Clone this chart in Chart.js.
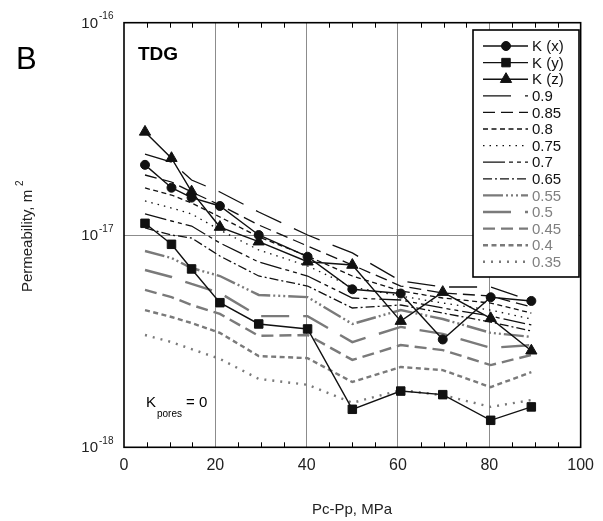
<!DOCTYPE html>
<html>
<head>
<meta charset="utf-8">
<script src="https://cdn.jsdelivr.net/npm/chart.js@4.4.1/dist/chart.umd.min.js"></script>
<style>
  html, body { margin: 0; padding: 0; background: #fff; }
</style>
</head>
<body>
<canvas id="main-chart" width="603" height="521"></canvas>
<script>
// Pc-Pp, MPa at each step
const PRESSURE = [4.6, 10.4, 14.8, 21.0, 29.5, 40.2, 50.0, 60.6, 69.8, 80.3, 89.2];

// measured permeability, in units of 1e-18 m^2
const K_X = [21.4, 16.7, 15.0, 13.7, 10.0, 7.90, 5.55, 5.30, 3.22, 5.09, 4.89];
const K_Y = [11.35, 9.04, 6.92, 4.80, 3.81, 3.61, 1.51, 1.84, 1.77, 1.34, 1.55];
const K_Z = [30.6, 23.0, 16.0, 10.9, 9.30, 7.48, 7.22, 3.93, 5.38, 4.05, 2.85];

// model curves for K_pores fractions, units of 1e-18 m^2
const P90 = [24.07, 22.07, 18.16, 15.94, 12.83, 10.0, 8.23, 6.07, 5.69, 5.69, 4.89];
const P85 = [19.17, 17.77, 15.94, 13.84, 11.15, 8.87, 7.22, 5.75, 5.33, 5.16, 4.58];
const P80 = [16.65, 15.43, 14.15, 12.16, 9.79, 7.96, 6.41, 5.45, 5.05, 4.78, 4.29];
const P75 = [14.46, 13.40, 12.56, 10.56, 8.50, 7.15, 5.69, 5.16, 4.78, 4.43, 4.02];
const P70 = [12.56, 11.64, 11.02, 9.17, 7.46, 6.41, 5.05, 4.94, 4.53, 4.15, 3.77];
const P65 = [10.79, 10.0, 9.68, 7.96, 6.41, 5.75, 4.53, 4.68, 4.29, 3.89, 3.53];
const P55 = [8.41, 7.79, 6.99, 6.41, 5.22, 5.10, 3.81, 4.43, 4.02, 3.46, 3.31];
const P50 = [6.84, 6.34, 5.88, 5.33, 4.15, 4.15, 3.13, 3.69, 3.42, 2.94, 3.03];
const P45 = [5.51, 5.10, 4.68, 4.25, 3.35, 3.38, 2.58, 3.03, 2.87, 2.44, 2.72];
const P40 = [4.43, 4.11, 3.85, 3.46, 2.69, 2.63, 2.03, 2.39, 2.31, 1.92, 2.26];
const P35 = [3.38, 3.13, 2.90, 2.61, 2.10, 1.97, 1.62, 1.86, 1.76, 1.55, 1.67];

const X_TICKS = [0, 20, 40, 60, 80, 100];
const Y_DECADES = [1, 10, 100];          // 1e-18, 1e-17, 1e-16 m^2
const Y_EXPONENTS = ['-18', '-17', '-16'];

const FONT = '"Liberation Sans", Arial, sans-serif';
const BLACK = '#111111';
const GRAY = '#7a7a7a';

const points = (vals) => PRESSURE.map((p, i) => ({ x: p, y: vals[i] }));

const measured = (label, vals, style, radius) => ({
    label: label,
    data: points(vals),
    borderColor: BLACK,
    backgroundColor: BLACK,
    borderWidth: 1.4,
    pointStyle: style,
    pointRadius: radius,
    pointBorderWidth: 1,
    tension: 0,
    fill: false,
    order: 0
});

const model = (label, vals, color, width, dash) => ({
    label: label,
    data: points(vals),
    borderColor: color,
    borderWidth: width,
    borderDash: dash,
    borderCapStyle: 'butt',
    pointRadius: 0,
    tension: 0,
    fill: false,
    order: 1
});

// frame, minor ticks, y tick labels, texts
const decorations = {
    id: 'decorations',
    afterDatasetsDraw(chart) {
        const { ctx, chartArea: a, scales: { x, y } } = chart;
        ctx.save();
        ctx.strokeStyle = '#000';
        ctx.lineWidth = 1;
        for (let v = 5; v < 100; v += 5) {
            if (v % 20 === 0) continue;
            const px = Math.round(x.getPixelForValue(v)) + 0.5;
            ctx.beginPath();
            ctx.moveTo(px, a.bottom); ctx.lineTo(px, a.bottom - 5);
            ctx.moveTo(px, a.top); ctx.lineTo(px, a.top + 5);
            ctx.stroke();
        }
        ctx.lineWidth = 1.6;
        ctx.strokeRect(a.left, a.top, a.right - a.left, a.bottom - a.top);

        // y tick labels 10^n
        ctx.fillStyle = '#222';
        Y_DECADES.forEach((v, i) => {
            const py = y.getPixelForValue(v);
            ctx.font = '15px ' + FONT;
            ctx.textAlign = 'right';
            ctx.textBaseline = 'middle';
            ctx.fillText('10', 98, py + 1);
            ctx.font = '10px ' + FONT;
            ctx.textAlign = 'left';
            ctx.fillText(Y_EXPONENTS[i], 99, py - 6);
        });

        // panel letter and sample name
        ctx.textAlign = 'left';
        ctx.textBaseline = 'alphabetic';
        ctx.font = '31px ' + FONT;
        ctx.fillStyle = '#000';
        ctx.fillText('B', 16, 69);
        ctx.font = 'bold 19px ' + FONT;
        ctx.fillText('TDG', 138, 60);

        // K_pores = 0
        ctx.font = '15px ' + FONT;
        ctx.fillText('K', 146, 407);
        ctx.font = '10px ' + FONT;
        ctx.fillText('pores', 157, 417);
        ctx.font = '15px ' + FONT;
        ctx.fillText('= 0', 186, 407);

        // axis titles
        ctx.fillStyle = '#222';
        ctx.font = '15px ' + FONT;
        ctx.textAlign = 'center';
        ctx.fillText('Pc-Pp, MPa', 352, 514);
        ctx.translate(32, 237);
        ctx.rotate(-Math.PI / 2);
        ctx.fillText('Permeability, m', -4, 0);
        ctx.font = '10px ' + FONT;
        ctx.textAlign = 'left';
        ctx.fillText('2', 51, -9);
        ctx.restore();
    },
    afterDraw(chart) {
        const ctx = chart.ctx;
        const box = { left: 473, top: 30, right: 579, bottom: 277 };
        ctx.save();
        ctx.fillStyle = '#fff';
        ctx.fillRect(box.left, box.top, box.right - box.left, box.bottom - box.top);
        ctx.strokeStyle = '#000';
        ctx.lineWidth = 1.6;
        ctx.strokeRect(box.left, box.top, box.right - box.left, box.bottom - box.top);

        chart.data.datasets.forEach((ds, i) => {
            const cy = 46 + i * 16.6;
            ctx.strokeStyle = ds.borderColor;
            ctx.lineWidth = ds.borderWidth;
            ctx.lineCap = 'butt';
            ctx.setLineDash(ds.borderDash || []);
            ctx.beginPath();
            ctx.moveTo(483, cy);
            ctx.lineTo(528, cy);
            ctx.stroke();
            ctx.setLineDash([]);
            if (ds.pointRadius > 0) {
                ctx.fillStyle = BLACK;
                ctx.lineWidth = 1;
                Chart.helpers.drawPoint(ctx, {
                    pointStyle: ds.pointStyle, radius: ds.pointRadius, borderWidth: 1, rotation: 0
                }, 506, cy);
            }
            ctx.fillStyle = ds.borderColor === GRAY ? '#808080' : '#111';
            ctx.font = '15px ' + FONT;
            ctx.textAlign = 'left';
            ctx.textBaseline = 'middle';
            ctx.fillText(ds.label, 532, cy + 1);
        });
        ctx.restore();
    }
};

Chart.defaults.font.family = FONT;

const chart = new Chart(document.getElementById('main-chart').getContext('2d'), {
    type: 'line',
    data: {
        datasets: [
            measured('K (x)', K_X, 'circle', 4.5),
            measured('K (y)', K_Y, 'rect', 6),
            measured('K (z)', K_Z, 'triangle', 6.5),
            model('0.9', P90, BLACK, 1.3, [28, 14]),
            model('0.85', P85, BLACK, 1.3, [12, 6]),
            model('0.8', P80, BLACK, 1.3, [5, 3.5]),
            model('0.75', P75, BLACK, 1.3, [1.5, 5]),
            model('0.7', P70, BLACK, 1.3, [22, 4, 4, 4, 4, 4]),
            model('0.65', P65, BLACK, 1.3, [9, 3, 2, 3]),
            model('0.55', P55, GRAY, 2.4, [20, 3, 2, 3, 2, 3, 2, 3]),
            model('0.5', P50, GRAY, 2.4, [28, 14]),
            model('0.45', P45, GRAY, 2.4, [12, 6]),
            model('0.4', P40, GRAY, 2.4, [5, 3.5]),
            model('0.35', P35, GRAY, 2.4, [2, 6])
        ]
    },
    options: {
        responsive: false,
        animation: false,
        devicePixelRatio: 1,
        layout: { padding: { top: 22.7, right: 20.5, bottom: 0, left: 0 } },
        plugins: {
            legend: { display: false },
            tooltip: { enabled: false }
        },
        scales: {
            x: {
                type: 'linear',
                min: 0,
                max: 100,
                afterBuildTicks: (scale) => { scale.ticks = X_TICKS.map(v => ({ value: v })); },
                afterFit: (scale) => { scale.height = 73.7; },
                border: { display: false },
                grid: {
                    drawTicks: false,
                    color: (c) => (c.tick && c.tick.value > 0 && c.tick.value < 100) ? '#8c8c8c' : 'rgba(0,0,0,0)',
                    lineWidth: 1
                },
                ticks: {
                    color: '#222',
                    padding: 9,
                    font: { size: 16, family: FONT },
                    maxRotation: 0
                }
            },
            y: {
                type: 'logarithmic',
                min: 1,
                max: 100,
                afterBuildTicks: (scale) => { scale.ticks = Y_DECADES.map(v => ({ value: v })); },
                afterFit: (scale) => { scale.width = 124; },
                border: { display: false },
                grid: {
                    drawTicks: false,
                    color: (c) => (c.tick && c.tick.value === 10) ? '#8c8c8c' : 'rgba(0,0,0,0)',
                    lineWidth: 1
                },
                ticks: { display: false }
            }
        }
    },
    plugins: [decorations]
});
</script>
</body>
</html>
